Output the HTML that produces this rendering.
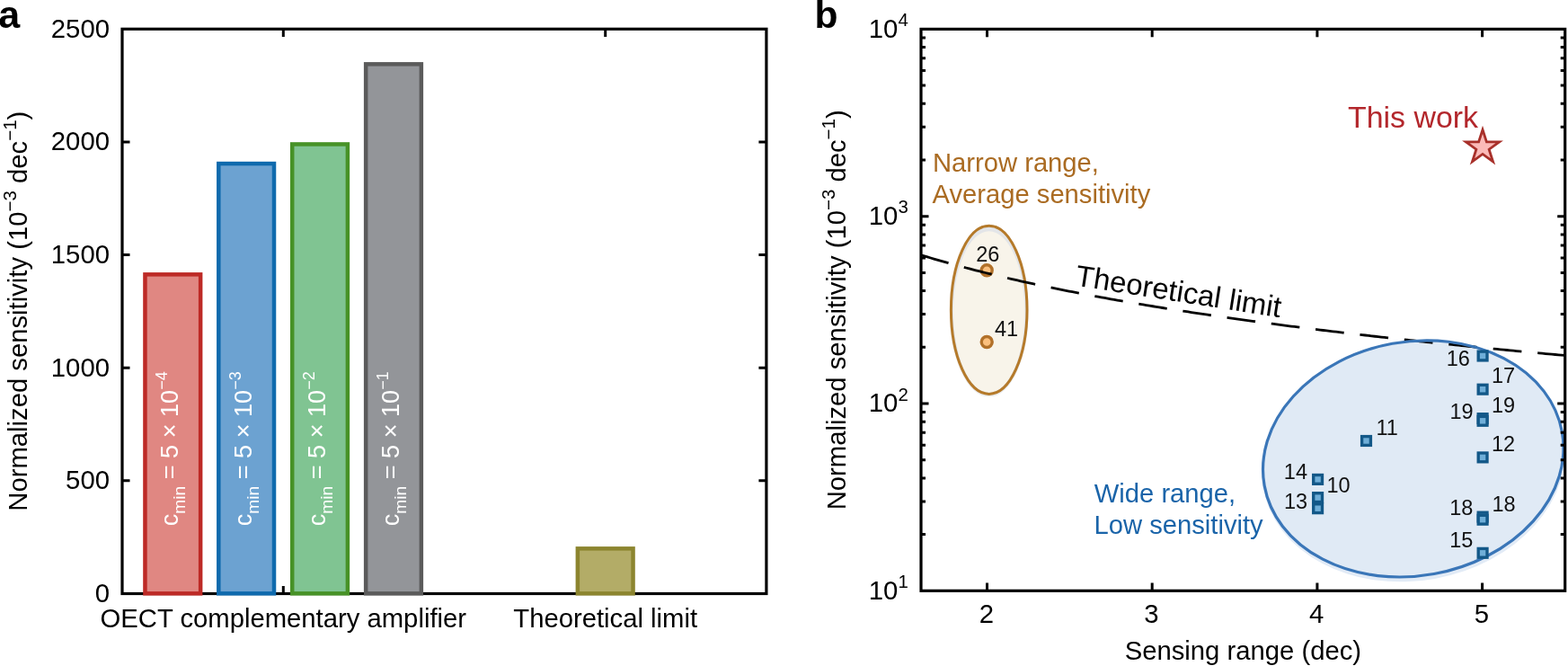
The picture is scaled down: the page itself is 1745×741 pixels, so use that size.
<!DOCTYPE html>
<html lang="en"><head><meta charset="utf-8"><title>Normalized sensitivity comparison</title>
<style>
html,body{margin:0;padding:0;background:#fff;width:1745px;height:741px;overflow:hidden;}
svg{display:block;}
text{font-family:"Liberation Sans", Arial, Helvetica, sans-serif;}
</style></head>
<body>
<svg width="1745" height="741" viewBox="0 0 1745 741" font-family='"Liberation Sans", Arial, Helvetica, sans-serif'>
<rect width="1745" height="741" fill="#fff"/>
<g id="panel-a">
<rect x="136.0" y="32.3" width="716.90" height="628.20" fill="none" stroke="#000" stroke-width="3.2"/>
<path d="M136.00 534.86h8.5M852.90 534.86h-8.5M136.00 409.22h8.5M852.90 409.22h-8.5M136.00 283.58h8.5M852.90 283.58h-8.5M136.00 157.94h8.5M852.90 157.94h-8.5M315.30 32.30v8.6M315.30 660.50v-8.6M673.70 32.30v8.6M673.70 660.50v-8.6" stroke="#000" stroke-width="3" fill="none"/>
<rect x="161.45" y="305.35" width="61.7" height="355.00" fill="#E08782" stroke="#BD2A26" stroke-width="4.5"/>
<rect x="243.30" y="182.05" width="61.7" height="478.30" fill="#6CA2D1" stroke="#0F6AAD" stroke-width="4.5"/>
<rect x="325.20" y="160.45" width="61.7" height="499.90" fill="#80C492" stroke="#479227" stroke-width="4.5"/>
<rect x="407.15" y="71.35" width="61.7" height="589.00" fill="#939599" stroke="#5B5B5B" stroke-width="4.5"/>
<rect x="642.85" y="610.35" width="61.7" height="50.00" fill="#B3AC67" stroke="#8C852F" stroke-width="4.5"/>
<text x="122" y="669.90" text-anchor="end" font-size="29.3">0</text>
<text x="122" y="544.26" text-anchor="end" font-size="29.3">500</text>
<text x="122" y="418.62" text-anchor="end" font-size="29.3">1000</text>
<text x="122" y="292.98" text-anchor="end" font-size="29.3">1500</text>
<text x="122" y="167.34" text-anchor="end" font-size="29.3">2000</text>
<text x="122" y="41.70" text-anchor="end" font-size="29.3">2500</text>
<text x="315.3" y="697.8" text-anchor="middle" font-size="29.25">OECT complementary amplifier</text>
<text x="673.7" y="697.8" text-anchor="middle" font-size="29.25">Theoretical limit</text>
<text transform="translate(29.7 346.2) rotate(-90)" text-anchor="middle" font-size="29.25">Normalized sensitivity (10<tspan font-size="20.5" dy="-12">−3</tspan><tspan dy="12"> dec</tspan><tspan font-size="20.5" dy="-12">−1</tspan><tspan dy="12">)</tspan></text>
<text transform="translate(197.80 499.3) rotate(-90)" text-anchor="middle" font-size="27.1" fill="#fff">c<tspan font-size="19.2" dy="8">min</tspan><tspan dy="-8"> = 5 × 10</tspan><tspan font-size="18" dy="-11.5">−4</tspan></text>
<text transform="translate(279.65 499.3) rotate(-90)" text-anchor="middle" font-size="27.1" fill="#fff">c<tspan font-size="19.2" dy="8">min</tspan><tspan dy="-8"> = 5 × 10</tspan><tspan font-size="18" dy="-11.5">−3</tspan></text>
<text transform="translate(361.55 499.3) rotate(-90)" text-anchor="middle" font-size="27.1" fill="#fff">c<tspan font-size="19.2" dy="8">min</tspan><tspan dy="-8"> = 5 × 10</tspan><tspan font-size="18" dy="-11.5">−2</tspan></text>
<text transform="translate(443.50 499.3) rotate(-90)" text-anchor="middle" font-size="27.1" fill="#fff">c<tspan font-size="19.2" dy="8">min</tspan><tspan dy="-8"> = 5 × 10</tspan><tspan font-size="18" dy="-11.5">−1</tspan></text>
<text x="-1.8" y="31.2" font-size="43" font-weight="bold">a</text>
</g>
<g id="panel-b">
<ellipse cx="1100.7" cy="345.6" rx="42.599999999999994" ry="94.39999999999999" fill="#E3E5E8" stroke="#EAECEE" stroke-width="2.6"/>
<ellipse cx="1100.7" cy="347.0" rx="39.699999999999996" ry="89.8" fill="#F8F4EA"/>
<ellipse cx="1100.7" cy="344.8" rx="42.3" ry="93.6" fill="none" stroke="#B57A2A" stroke-width="3.0"/>
<ellipse cx="1573.25" cy="513.6" rx="169.9" ry="132.39999999999998" transform="rotate(-10.25 1573.25 513.6)" fill="#E2EBF6"/>
<ellipse cx="1572.75" cy="510.4" rx="168.3" ry="130.2" transform="rotate(-10.25 1572.75 510.4)" fill="#E0EAF5"/>
<circle cx="1098.2" cy="300.7" r="6.0" fill="#FBC07E" stroke="#B2712A" stroke-width="3.4"/>
<circle cx="1098.2" cy="380.5" r="6.0" fill="#FBC07E" stroke="#B2712A" stroke-width="3.4"/>
<polyline points="1025.02,283.77 1028.60,284.86 1032.18,285.95 1035.77,287.02 1039.35,288.07 1042.93,289.12 1046.51,290.15 1050.10,291.17 1053.68,292.18 1057.26,293.18 1060.84,294.17 1064.42,295.15 1068.01,296.12 1071.59,297.07 1075.17,298.02 1078.75,298.96 1082.33,299.88 1085.92,300.80 1089.50,301.71 1093.08,302.61 1096.66,303.50 1100.25,304.38 1103.83,305.26 1107.41,306.12 1110.99,306.98 1114.57,307.83 1118.16,308.67 1121.74,309.50 1125.32,310.33 1128.90,311.15 1132.48,311.96 1136.07,312.76 1139.65,313.56 1143.23,314.35 1146.81,315.13 1150.40,315.91 1153.98,316.68 1157.56,317.44 1161.14,318.20 1164.72,318.95 1168.31,319.69 1171.89,320.43 1175.47,321.16 1179.05,321.89 1182.63,322.61 1186.22,323.32 1189.80,324.03 1193.38,324.74 1196.96,325.43 1200.55,326.13 1204.13,326.81 1207.71,327.50 1211.29,328.17 1214.87,328.85 1218.46,329.51 1222.04,330.18 1225.62,330.83 1229.20,331.49 1232.78,332.14 1236.37,332.78 1239.95,333.42 1243.53,334.05 1247.11,334.68 1250.70,335.31 1254.28,335.93 1257.86,336.55 1261.44,337.16 1265.02,337.77 1268.61,338.37 1272.19,338.98 1275.77,339.57 1279.35,340.17 1282.93,340.75 1286.52,341.34 1290.10,341.92 1293.68,342.50 1297.26,343.07 1300.85,343.64 1304.43,344.21 1308.01,344.77 1311.59,345.33 1315.17,345.89 1318.76,346.44 1322.34,346.99 1325.92,347.54 1329.50,348.08 1333.08,348.62 1336.67,349.16 1340.25,349.69 1343.83,350.22 1347.41,350.75 1351.00,351.28 1354.58,351.80 1358.16,352.32 1361.74,352.83 1365.32,353.34 1368.91,353.85 1372.49,354.36 1376.07,354.86 1379.65,355.36 1383.23,355.86 1386.82,356.36 1390.40,356.85 1393.98,357.34 1397.56,357.83 1401.15,358.31 1404.73,358.80 1408.31,359.28 1411.89,359.75 1415.47,360.23 1419.06,360.70 1422.64,361.17 1426.22,361.64 1429.80,362.10 1433.39,362.56 1436.97,363.03 1440.55,363.48 1444.13,363.94 1447.71,364.39 1451.30,364.84 1454.88,365.29 1458.46,365.74 1462.04,366.18 1465.62,366.63 1469.21,367.07 1472.79,367.50 1476.37,367.94 1479.95,368.37 1483.54,368.80 1487.12,369.23 1490.70,369.66 1494.28,370.09 1497.86,370.51 1501.45,370.93 1505.03,371.35 1508.61,371.77 1512.19,372.19 1515.77,372.60 1519.36,373.01 1522.94,373.42 1526.52,373.83 1530.10,374.24 1533.69,374.64 1537.27,375.04 1540.85,375.45 1544.43,375.84 1548.01,376.24 1551.60,376.64 1555.18,377.03 1558.76,377.42 1562.34,377.82 1565.92,378.20 1569.51,378.59 1573.09,378.98 1576.67,379.36 1580.25,379.74 1583.84,380.12 1587.42,380.50 1591.00,380.88 1594.58,381.26 1598.16,381.63 1601.75,382.01 1605.33,382.38 1608.91,382.75 1612.49,383.11 1616.07,383.48 1619.66,383.85 1623.24,384.21 1626.82,384.57 1630.40,384.93 1633.99,385.29 1637.57,385.65 1641.15,386.01 1644.73,386.36 1648.31,386.72 1651.90,387.07 1655.48,387.42 1659.06,387.77 1662.64,388.12 1666.22,388.47 1669.81,388.81 1673.39,389.16 1676.97,389.50 1680.55,389.84 1684.14,390.18 1687.72,390.52 1691.30,390.86 1694.88,391.20 1698.46,391.53 1702.05,391.87 1705.63,392.20 1709.21,392.53 1712.79,392.86 1716.37,393.19 1719.96,393.52 1723.54,393.85 1727.12,394.18 1730.70,394.50 1734.29,394.82 1737.87,395.15 1741.45,395.47" fill="none" stroke="#000" stroke-width="2.8" stroke-dasharray="31.8 17.9"/>
<ellipse cx="1572.75" cy="510.4" rx="168.3" ry="130.2" transform="rotate(-10.25 1572.75 510.4)" fill="none" stroke="#3A76B8" stroke-width="3.2"/>
<rect x="1025.0" y="32.4" width="716.70" height="624.90" fill="none" stroke="#000" stroke-width="3.2"/>
<path d="M1025.00 594.60h5.0M1741.70 594.60h-5.0M1025.00 557.92h5.0M1741.70 557.92h-5.0M1025.00 531.89h5.0M1741.70 531.89h-5.0M1025.00 511.70h5.0M1741.70 511.70h-5.0M1025.00 495.21h5.0M1741.70 495.21h-5.0M1025.00 481.27h5.0M1741.70 481.27h-5.0M1025.00 469.19h5.0M1741.70 469.19h-5.0M1025.00 458.53h5.0M1741.70 458.53h-5.0M1025.00 449.00h8.5M1741.70 449.00h-8.5M1025.00 386.30h5.0M1741.70 386.30h-5.0M1025.00 349.62h5.0M1741.70 349.62h-5.0M1025.00 323.59h5.0M1741.70 323.59h-5.0M1025.00 303.40h5.0M1741.70 303.40h-5.0M1025.00 286.91h5.0M1741.70 286.91h-5.0M1025.00 272.97h5.0M1741.70 272.97h-5.0M1025.00 260.89h5.0M1741.70 260.89h-5.0M1025.00 250.23h5.0M1741.70 250.23h-5.0M1025.00 240.70h8.5M1741.70 240.70h-8.5M1025.00 178.00h5.0M1741.70 178.00h-5.0M1025.00 141.32h5.0M1741.70 141.32h-5.0M1025.00 115.29h5.0M1741.70 115.29h-5.0M1025.00 95.10h5.0M1741.70 95.10h-5.0M1025.00 78.61h5.0M1741.70 78.61h-5.0M1025.00 64.67h5.0M1741.70 64.67h-5.0M1025.00 52.59h5.0M1741.70 52.59h-5.0M1025.00 41.93h5.0M1741.70 41.93h-5.0M1098.50 657.30v-8.8M1098.50 32.40v8.8M1282.20 657.30v-8.8M1282.20 32.40v8.8M1465.90 657.30v-8.8M1465.90 32.40v8.8M1649.60 657.30v-8.8M1649.60 32.40v8.8" stroke="#000" stroke-width="3" fill="none"/>
<text x="966.8" y="666.50" font-size="29.3">10<tspan font-size="20.4" dy="-12.7">1</tspan></text>
<text x="966.8" y="458.20" font-size="29.3">10<tspan font-size="20.4" dy="-12.7">2</tspan></text>
<text x="966.8" y="249.90" font-size="29.3">10<tspan font-size="20.4" dy="-12.7">3</tspan></text>
<text x="966.8" y="41.60" font-size="29.3">10<tspan font-size="20.4" dy="-12.7">4</tspan></text>
<text x="1097.80" y="692.9" text-anchor="middle" font-size="29.3">2</text>
<text x="1281.50" y="692.9" text-anchor="middle" font-size="29.3">3</text>
<text x="1465.20" y="692.9" text-anchor="middle" font-size="29.3">4</text>
<text x="1648.90" y="692.9" text-anchor="middle" font-size="29.3">5</text>
<text x="1383.4" y="734.1" text-anchor="middle" font-size="29.25">Sensing range (dec)</text>
<text transform="translate(941.3 344.8) rotate(-90)" text-anchor="middle" font-size="29.25">Normalized sensitivity (10<tspan font-size="20.5" dy="-12">−3</tspan><tspan dy="12"> dec</tspan><tspan font-size="20.5" dy="-12">−1</tspan><tspan dy="12">)</tspan></text>
<text x="1099.3" y="291.2" text-anchor="middle" font-size="23.5" fill="#111">26</text>
<text x="1107" y="374.3" font-size="23.5" fill="#111">41</text>
<rect x="1645.20" y="391.10" width="9.8" height="9.8" fill="#6FAED8" stroke="#135888" stroke-width="3.35"/>
<rect x="1645.20" y="428.30" width="9.8" height="9.8" fill="#6FAED8" stroke="#135888" stroke-width="3.35"/>
<rect x="1645.20" y="460.70" width="9.8" height="9.8" fill="#6FAED8" stroke="#135888" stroke-width="3.35"/>
<rect x="1645.20" y="463.40" width="9.8" height="9.8" fill="#6FAED8" stroke="#135888" stroke-width="3.35"/>
<rect x="1645.20" y="504.00" width="9.8" height="9.8" fill="#6FAED8" stroke="#135888" stroke-width="3.35"/>
<rect x="1645.20" y="570.20" width="9.8" height="9.8" fill="#6FAED8" stroke="#135888" stroke-width="3.35"/>
<rect x="1645.20" y="573.30" width="9.8" height="9.8" fill="#6FAED8" stroke="#135888" stroke-width="3.35"/>
<rect x="1645.20" y="610.40" width="9.8" height="9.8" fill="#6FAED8" stroke="#135888" stroke-width="3.35"/>
<rect x="1515.60" y="485.60" width="9.8" height="9.8" fill="#6FAED8" stroke="#135888" stroke-width="3.35"/>
<rect x="1461.70" y="528.50" width="9.8" height="9.8" fill="#6FAED8" stroke="#135888" stroke-width="3.35"/>
<rect x="1461.70" y="548.70" width="9.8" height="9.8" fill="#6FAED8" stroke="#135888" stroke-width="3.35"/>
<rect x="1461.70" y="560.80" width="9.8" height="9.8" fill="#6FAED8" stroke="#135888" stroke-width="3.35"/>
<text x="1635.8" y="407.4" text-anchor="end" font-size="23.5" fill="#111">16</text>
<text x="1660" y="426.3" text-anchor="start" font-size="23.5" fill="#111">17</text>
<text x="1639.6" y="466" text-anchor="end" font-size="23.5" fill="#111">19</text>
<text x="1660" y="459.4" text-anchor="start" font-size="23.5" fill="#111">19</text>
<text x="1660" y="501.9" text-anchor="start" font-size="23.5" fill="#111">12</text>
<text x="1639.4" y="573" text-anchor="end" font-size="23.5" fill="#111">18</text>
<text x="1660.5" y="569.2" text-anchor="start" font-size="23.5" fill="#111">18</text>
<text x="1639.4" y="608.7" text-anchor="end" font-size="23.5" fill="#111">15</text>
<text x="1531.5" y="483.5" text-anchor="start" font-size="23.5" fill="#111">11</text>
<text x="1455" y="533.3" text-anchor="end" font-size="23.5" fill="#111">14</text>
<text x="1476.5" y="548.3" text-anchor="start" font-size="23.5" fill="#111">10</text>
<text x="1455.2" y="566.2" text-anchor="end" font-size="23.5" fill="#111">13</text>
<text x="1038" y="190.7" font-size="29.2" fill="#AA6B22">Narrow range,<tspan x="1037.5" y="225.5">Average sensitivity</tspan></text>
<text x="1217.8" y="558.8" font-size="29.2" fill="#1A64A9">Wide range,<tspan x="1217.5" y="593.7">Low sensitivity</tspan></text>
<text x="1500" y="142.3" font-size="33.9" fill="#B3272C">This work</text>
<text transform="translate(1195.8 317.5) rotate(8.9)" font-size="33" fill="#000">Theoretical limit</text>
<polygon points="1650.00,144.30 1654.40,157.84 1668.64,157.84 1657.12,166.21 1661.52,179.76 1650.00,171.39 1638.48,179.76 1642.88,166.21 1631.36,157.84 1645.60,157.84" fill="#FBBAB8" stroke="#A8302A" stroke-width="2.8" stroke-linejoin="miter"/>
<text x="906.4" y="30.8" font-size="42.5" font-weight="bold">b</text>
</g>
</svg>
</body></html>
